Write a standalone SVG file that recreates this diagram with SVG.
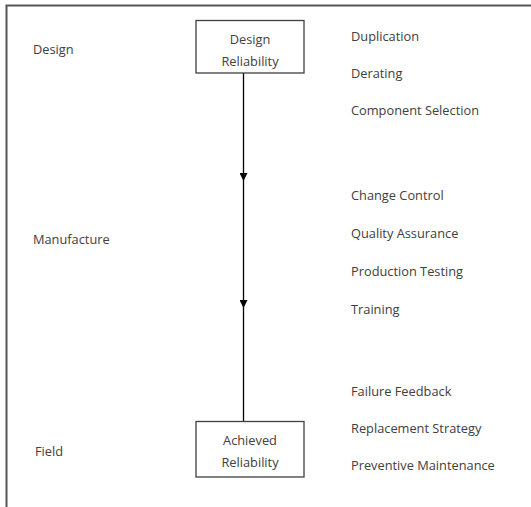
<svg xmlns="http://www.w3.org/2000/svg" width="531" height="507" viewBox="0 0 531 507">
  <style>
    .t { font-family: "Open Sans", "Liberation Sans", sans-serif; font-size: 12.8px; fill: #404040; }
    .c { text-anchor: middle; }
    .box { fill: #ffffff; stroke: #404040; stroke-width: 1.3; }
    .frame { fill: none; stroke: #555555; stroke-width: 2; }
    .wire { stroke: #000000; stroke-width: 1.3; fill: none; }
  </style>
  <defs>
    <marker id="arrow" markerWidth="8" markerHeight="8" refX="8" refY="4" orient="auto" markerUnits="userSpaceOnUse">
      <path d="M0,0 L8,4 L0,8 Z" fill="#000000"/>
    </marker>
  </defs>

  <!-- frame -->
  <path class="frame" d="M6.5,507 L6.5,5.5 L531,5.5"/>

  <!-- stage labels -->
  <text class="t" x="33" y="54">Design</text>
  <text class="t" x="33" y="244">Manufacture</text>
  <text class="t" x="35" y="456">Field</text>

  <!-- connectors -->
  <g id="connectors">
    <line class="wire" x1="243.5" y1="73" x2="243.5" y2="181" marker-end="url(#arrow)"/>
    <line class="wire" x1="243.5" y1="181" x2="243.5" y2="308" marker-end="url(#arrow)"/>
    <line class="wire" x1="243.5" y1="308" x2="243.5" y2="421"/>
  </g>

  <g id="design-reliability">
    <rect class="box" x="196" y="20.5" width="108" height="52.5"/>
    <text class="t c" x="250" y="44">Design</text>
    <text class="t c" x="250" y="66">Reliability</text>
  </g>

  <g id="achieved-reliability">
    <rect class="box" x="196" y="421.5" width="108" height="55.5"/>
    <text class="t c" x="250" y="445">Achieved</text>
    <text class="t c" x="250" y="467">Reliability</text>
  </g>

  <!-- activities -->
  <g id="design-activities">
    <text class="t" x="351" y="41">Duplication</text>
    <text class="t" x="351" y="78">Derating</text>
    <text class="t" x="351" y="115">Component Selection</text>
  </g>
  <g id="manufacture-activities">
    <text class="t" x="351" y="200">Change Control</text>
    <text class="t" x="351" y="238">Quality Assurance</text>
    <text class="t" x="351" y="276">Production Testing</text>
    <text class="t" x="351" y="314">Training</text>
  </g>
  <g id="field-activities">
    <text class="t" x="351" y="396">Failure Feedback</text>
    <text class="t" x="351" y="433">Replacement Strategy</text>
    <text class="t" x="351" y="470">Preventive Maintenance</text>
  </g>
</svg>
